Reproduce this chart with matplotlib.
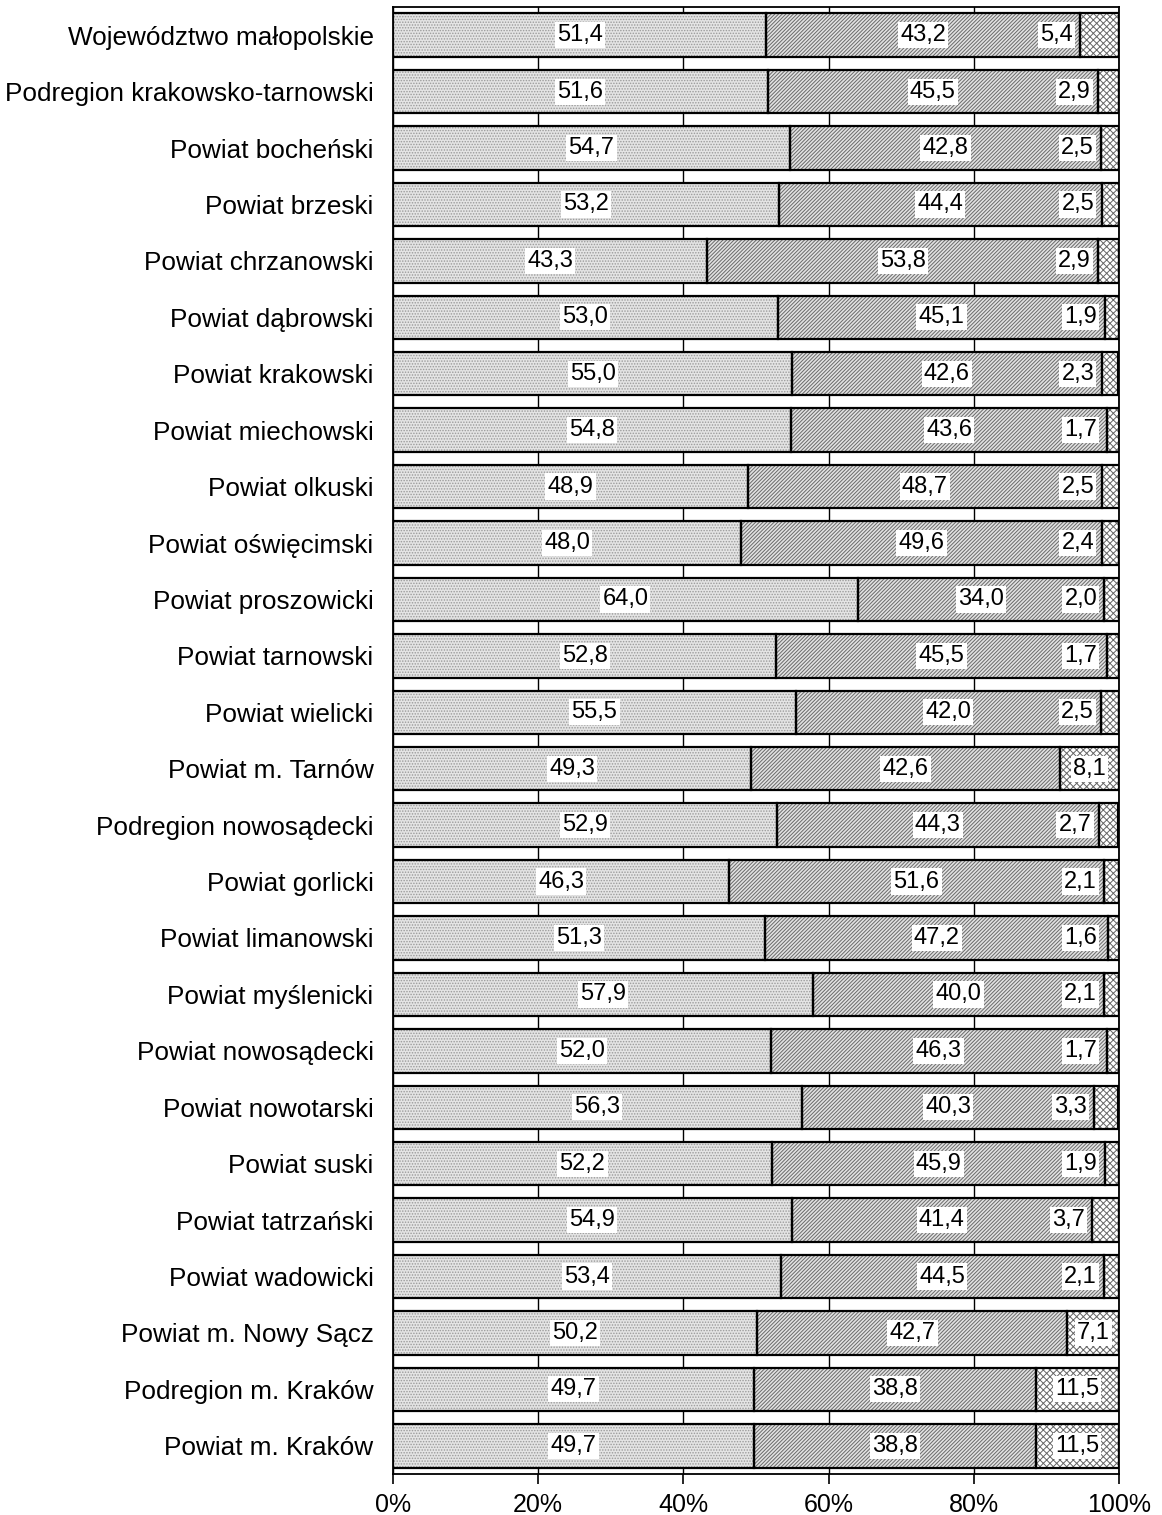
import numpy as np
import matplotlib.pyplot as plt

plt.rcParams['font.family'] = ['Liberation Sans', 'DejaVu Sans']
plt.rcParams['hatch.linewidth'] = 0.7

regions = [
    "Województwo małopolskie", "Podregion krakowsko-tarnowski", "Powiat bocheński",
    "Powiat brzeski", "Powiat chrzanowski", "Powiat dąbrowski", "Powiat krakowski",
    "Powiat miechowski", "Powiat olkuski", "Powiat oświęcimski", "Powiat proszowicki",
    "Powiat tarnowski", "Powiat wielicki", "Powiat m. Tarnów", "Podregion nowosądecki",
    "Powiat gorlicki", "Powiat limanowski", "Powiat myślenicki", "Powiat nowosądecki",
    "Powiat nowotarski", "Powiat suski", "Powiat tatrzański", "Powiat wadowicki",
    "Powiat m. Nowy Sącz", "Podregion m. Kraków", "Powiat m. Kraków",
]
part1 = [51.4, 51.6, 54.7, 53.2, 43.3, 53.0, 55.0, 54.8, 48.9, 48.0, 64.0, 52.8, 55.5,
         49.3, 52.9, 46.3, 51.3, 57.9, 52.0, 56.3, 52.2, 54.9, 53.4, 50.2, 49.7, 49.7]
part2 = [43.2, 45.5, 42.8, 44.4, 53.8, 45.1, 42.6, 43.6, 48.7, 49.6, 34.0, 45.5, 42.0,
         42.6, 44.3, 51.6, 47.2, 40.0, 46.3, 40.3, 45.9, 41.4, 44.5, 42.7, 38.8, 38.8]
part3 = [5.4, 2.9, 2.5, 2.5, 2.9, 1.9, 2.3, 1.7, 2.5, 2.4, 2.0, 1.7, 2.5,
         8.1, 2.7, 2.1, 1.6, 2.1, 1.7, 3.3, 1.9, 3.7, 2.1, 7.1, 11.5, 11.5]

p1 = np.array(part1)
p2 = np.array(part2)
p3 = np.array(part3)
y = np.arange(len(regions))[::-1]

fig = plt.figure(figsize=(11.62, 15.15), dpi=100)
ax = fig.add_axes([393 / 1162, 1 - 1474 / 1515, 726 / 1162, 1467 / 1515])

h = 0.77
segs = [(np.zeros_like(p1), p1, '#e4e4e4', '......', '#9a9a9a'),
        (p1, p2, '#e2e2e2', '/////////', '#6a6a6a'),
        (p1 + p2, p3, 'white', 'xxxxx', '#666666')]
for left, w, fc, hatch, hc in segs:
    ax.barh(y, w, left=left, height=h, color=fc, hatch=hatch, edgecolor=hc,
            linewidth=0, zorder=2)
    ax.barh(y, w, left=left, height=h, fill=False, edgecolor='black',
            linewidth=1.6, zorder=3)

box = dict(facecolor='white', edgecolor='none', pad=1.5)
fs = 17
for yi, a, b, c in zip(y, p1, p2, p3):
    ax.text(a / 2, yi, f"{a:.1f}".replace('.', ','), ha='center', va='center',
            fontsize=fs, bbox=box, zorder=4)
    ax.text(a + b / 2, yi, f"{b:.1f}".replace('.', ','), ha='center', va='center',
            fontsize=fs, bbox=box, zorder=4)
    lab = f"{c:.1f}".replace('.', ',')
    if c >= 7:
        ax.text(a + b + c / 2, yi, lab, ha='center', va='center',
                fontsize=fs, bbox=box, zorder=4)
    else:
        ax.text(min(a + b - 1.0, 97.0), yi, lab, ha='right', va='center',
                fontsize=fs, bbox=box, zorder=4)

ax.set_xlim(0, 100)
ax.set_ylim(-0.5, len(regions) - 0.5)
ax.set_xticks(np.arange(0, 101, 20))
ax.set_xticklabels([f"{t}%" for t in range(0, 101, 20)], fontsize=18)
ax.set_yticks(y)
ax.set_yticklabels(regions, fontsize=18.8)
ax.tick_params(axis='y', length=0, pad=14)
ax.tick_params(axis='x', length=7, width=1.2, direction='out', pad=7)
ax.grid(axis='x', color='black', linewidth=1.0, zorder=0)
ax.set_axisbelow(True)
for s in ax.spines.values():
    s.set_linewidth(1.3)

fig.savefig('out.png', dpi=100)
